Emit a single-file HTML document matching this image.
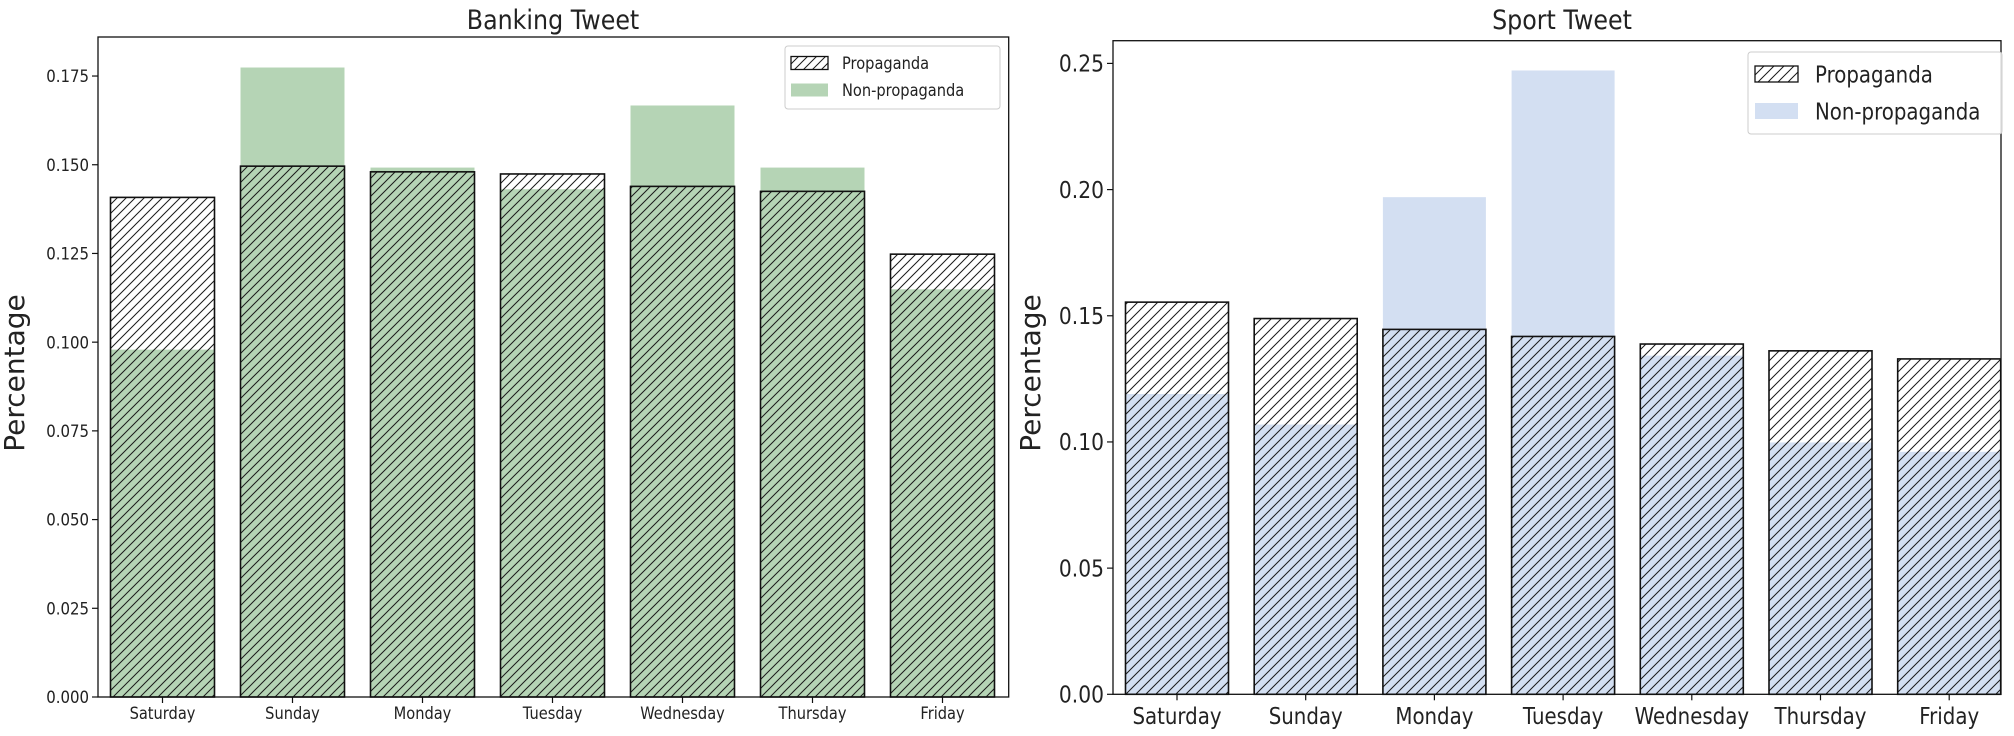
<!DOCTYPE html>
<html><head><meta charset="utf-8"><style>
html,body{margin:0;padding:0;background:#fff;}
svg{display:block;}
text{font-family:"DejaVu Sans","Liberation Sans",sans-serif;fill:#222;}
</style></head><body>
<svg id="fig" width="2014" height="736" viewBox="0 0 2014 736" xmlns="http://www.w3.org/2000/svg">
<defs>
<pattern id="hatchL" patternUnits="userSpaceOnUse" width="9" height="9"><path d="M-1,1 L1,-1 M0,9 L9,0 M8,10 L10,8" stroke="#1a1a1a" stroke-width="1"/></pattern>
<pattern id="hatchR" patternUnits="userSpaceOnUse" width="10" height="10"><path d="M-1,1 L1,-1 M0,10 L10,0 M9,11 L11,9" stroke="#1a1a1a" stroke-width="1"/></pattern>
</defs>
<g id="left"></g>
<g id="right"></g>
</svg>
<script>
const days = ["Saturday","Sunday","Monday","Tuesday","Wednesday","Thursday","Friday"];
const bankProp = [0.1408,0.1496,0.1480,0.1474,0.1439,0.1425,0.1248];
const bankNon = [0.0979,0.1774,0.1492,0.1431,0.1667,0.1492,0.1149];
const bankTicks = ["0.000","0.025","0.050","0.075","0.100","0.125","0.150","0.175"];
const sportProp = [0.1554,0.1489,0.1446,0.1418,0.1388,0.1361,0.1329];
const sportNon = [0.1190,0.1069,0.1970,0.2472,0.1342,0.0998,0.0961];
const sportTicks = ["0.00","0.05","0.10","0.15","0.20","0.25"];
const NS="http://www.w3.org/2000/svg";
function mk(p,tag,attrs){const e=document.createElementNS(NS,tag);for(const k in attrs)e.setAttribute(k,attrs[k]);p.appendChild(e);return e;}
function txt(p,x,y,s,size,sx,anchor,rot){
  const t=mk(p,'text',{'font-size':size,'text-anchor':anchor,transform:`translate(${x},${y})${rot?' rotate(-90)':''} scale(${sx},1)`});
  t.textContent=s;return t;}
function chart(g,cfg){
  const {L,R,T,B,c0,step,bw,ymax,prop,non,ticks,color,hatch,tf,xf,title,tcx,legend}=cfg;
  const ys=v=>B-(v/ymax)*(B-T);
  const xs=i=>c0+step*i;
  for(let i=0;i<days.length;i++){
    const r=mk(g,'rect',{x:xs(i)-bw/2,y:ys(non[i]),width:bw,height:B-ys(non[i]),fill:color});
    
    
  }
  for(let i=0;i<days.length;i++){
    const r=mk(g,'rect',{x:xs(i)-bw/2,y:ys(prop[i]),width:bw,height:B-ys(prop[i]),fill:`url(#${hatch})`,stroke:'#111','stroke-width':1.6});
    
    
  }
  const ax=mk(g,'rect',{x:L,y:T,width:R-L,height:B-T,fill:'none',stroke:'#111','stroke-width':1.3});
  
  
  ticks.forEach(s=>{const v=parseFloat(s);const y=ys(v);
    mk(g,'line',{x1:L-6,x2:L,y1:y,y2:y,stroke:'#111','stroke-width':1.2});
    const t=txt(g,L-9,y+tf*0.36,s,tf,0.88,'end');
    
    
  });
  days.forEach((d,i)=>{const x=xs(i);
    mk(g,'line',{x1:x,x2:x,y1:B,y2:B+6,stroke:'#111','stroke-width':1.2});
    const t=txt(g,x,B+xf*1.3,d,xf,0.86,'middle');
    
    
  });
  const tt=txt(g,tcx,29,title,27,0.88,'middle');
  
  
  const yl=txt(g,cfg.ylx,373,'Percentage',28,1,'middle',true);
  
  
  const lg=mk(g,'g',{});
  
  
  mk(lg,'rect',{x:legend.x,y:legend.y,width:legend.w,height:legend.h,rx:3,fill:'#fff','fill-opacity':0.85,stroke:'#ccc','stroke-width':1});
  const e1=mk(lg,'rect',{x:legend.px,y:legend.r1-legend.ph/2,width:legend.pw,height:legend.ph,fill:`url(#${hatch})`,stroke:'#111','stroke-width':1.3});
  
  
  const e2=mk(lg,'rect',{x:legend.px,y:legend.r2-legend.ph/2,width:legend.pw,height:legend.ph,fill:color});
  
  
  txt(lg,legend.tx,legend.r1+legend.fs*0.36,'Propaganda',legend.fs,0.86,'start');
  txt(lg,legend.tx,legend.r2+legend.fs*0.36,'Non-propaganda',legend.fs,0.86,'start');
}
chart(document.getElementById('left'),{L:98,R:1008.7,T:37,B:697,c0:162.5,step:130,bw:104,ymax:0.186,
  prop:bankProp,non:bankNon,ticks:bankTicks,color:'rgb(181,212,181)',hatch:'hatchL',tf:17,xf:17,
  title:'Banking Tweet',tcx:553,ylx:24,
  legend:{x:785,y:46,w:215,h:63,px:791,pw:37,ph:13,r1:63,r2:90,tx:842,fs:17}});
chart(document.getElementById('right'),{L:1113,R:2001,T:40.7,B:694.3,c0:1177,step:128.7,bw:103,ymax:0.259,
  prop:sportProp,non:sportNon,ticks:sportTicks,color:'rgb(211,223,242)',hatch:'hatchR',tf:23,xf:23,
  title:'Sport Tweet',tcx:1562,ylx:1040,
  legend:{x:1748,y:52,w:254,h:82,px:1755,pw:43,ph:16,r1:74,r2:111,tx:1815,fs:23}});
</script>
</body></html>
